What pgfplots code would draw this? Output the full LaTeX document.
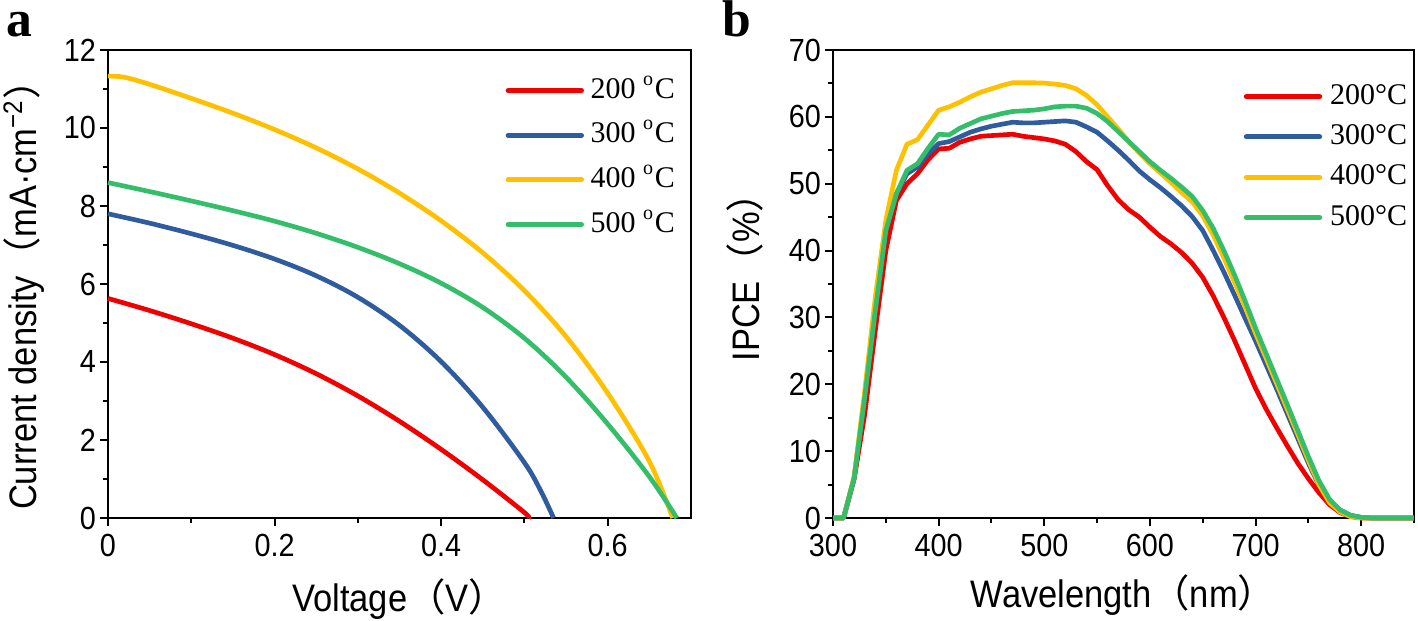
\documentclass[border=0pt]{standalone}
\usepackage{fontspec}
\setmainfont{Liberation Sans}[FakeStretch=0.9]
\newfontfamily\cjk{Noto Sans CJK JP}
\newfontfamily\legserif{Liberation Serif}
\usepackage{pgfplots}
\pgfplotsset{compat=1.18}
\usepackage{pgfplotstable}
\definecolor{cred}{RGB}{240,0,0}
\definecolor{cblue}{RGB}{46,92,158}
\definecolor{cyel}{RGB}{255,192,0}
\definecolor{cgreen}{RGB}{52,190,105}

\pgfplotstableread{
wl r b y g
300 0 0 0 0
310 0 0 0 0
320 5.8 6.0 6.2 6.0
330 15.5 18 19 18
340 28 31 33 31
350 40 43 44.5 43
360 47.5 48.5 52 48.5
370 50.0 51.5 55.9 52.0
380 51.5 52.5 56.6 53.0
390 53.6 54.5 58.8 55.3
400 55.2 56.0 61.0 57.4
410 55.3 56.3 61.5 57.3
420 56.2 57.0 62.2 58.3
430 56.7 57.7 63.0 59.0
440 57.1 58.2 63.7 59.7
450 57.2 58.6 64.2 60.1
460 57.3 58.9 64.7 60.5
470 57.4 59.2 65.1 60.8
480 57.1 59.1 65.1 60.9
490 56.9 59.1 65.1 61.0
500 56.7 59.2 65.05 61.2
510 56.4 59.3 64.9 61.5
520 55.9 59.4 64.7 61.6
530 54.8 59.2 64.2 61.6
540 53.3 58.5 63.2 61.3
550 52.1 57.7 61.8 60.5
560 49.7 56.4 60.0 59.3
570 47.6 55.0 58.2 57.8
580 46.1 53.5 56.3 56.3
590 45.0 51.9 54.6 54.8
600 43.5 50.6 53.0 53.3
610 42.1 49.4 51.6 52.0
620 41.0 48.1 50.2 50.8
630 39.7 46.7 48.7 49.5
640 38.1 45.1 47.3 48.1
650 36.0 43.0 45.2 46.0
660 33.2 40.0 42.3 43.3
670 30.0 36.8 38.9 40.0
680 26.6 33.4 35.3 36.4
690 23.0 29.9 31.6 32.5
700 19.4 26.5 27.6 28.4
710 16.3 22.9 23.9 24.6
720 13.5 19.3 20.1 20.8
730 10.8 15.6 16.3 17.0
740 8.2 11.9 12.5 13.1
750 5.9 8.2 8.6 9.2
760 3.8 4.9 5.0 5.6
770 2.0 2.5 2.3 2.8
780 0.8 1.2 0.9 1.2
790 0.2 0.4 0.2 0.4
800 0 0.1 0 0.1
810 0 0 0 0
850 0 0 0 0
}\ipce

\pgfplotsset{
  common/.style={
    scale only axis,
    height=140.4pt,
    axis line style={line width=0.7pt},
    tick align=outside,
    xtick pos=bottom, ytick pos=left,
    major tick length=2.4pt,
    minor tick length=1.5pt,
    every tick/.style={black, line width=0.6pt},
    /pgf/number format/assume math mode=true,
    tick label style={font=\fontsize{9.6}{10}\selectfont},
    yticklabel style={inner sep=1pt},
    xticklabel style={inner sep=1pt, yshift=-1.2pt},
    label style={font=\fontsize{11.5}{12}\selectfont},
    legend cell align=left,
    legend image code/.code={\draw[#1, line width=1.5pt, line cap=round] (0pt,0pt) -- (22pt,0pt);},
    every axis plot/.append style={line width=1.4pt, line join=round},
  }
}

\begin{document}
\begin{tikzpicture}
\useasboundingbox (-32.4pt,-30.9pt) rectangle (393pt,155.4pt);
% Panel a
\begin{axis}[common,
  at={(0pt,0pt)}, anchor=origin,
  width=174.9pt,
  xmin=0, xmax=0.7, ymin=0, ymax=12,
  xtick={0,0.2,0.4,0.6}, xticklabels={0,0.2,0.4,0.6},
  minor xtick={0.1,0.3,0.5},
  ytick={0,2,4,6,8,10,12},
  minor ytick={1,3,5,7,9,11},
  xlabel={Voltage{\cjk （}V{\cjk ）}},
  ylabel={Current density{\cjk （}mA·cm\textsuperscript{−2}{\cjk ）}},
  xlabel style={at={(axis description cs:0.5,-0.173)}, anchor=center},
  ylabel style={at={(axis description cs:-0.144,0.497)}, anchor=center},
  legend style={at={(rel axis cs:0.681,0.945)}, anchor=north west, draw=none, fill=none,
    font=\legserif\fontsize{9}{10}\selectfont, inner sep=0pt, row sep=4.9pt, column sep=2pt,
    nodes={inner sep=0pt, text height=6.5pt, text depth=2pt}},
  clip=false,
]
\addplot[cred, smooth, tension=0.55] coordinates {(0,5.63) (0.05,5.32) (0.1,4.98) (0.15,4.61) (0.2,4.19) (0.25,3.70) (0.3,3.13) (0.35,2.48) (0.4,1.76) (0.45,0.98) (0.5,0.14) (0.505,0)};
\addlegendentry{200 \textsuperscript{o}C}
\addplot[cblue, smooth, tension=0.55] coordinates {(0,7.8) (0.05,7.56) (0.1,7.29) (0.15,6.99) (0.2,6.64) (0.25,6.21) (0.3,5.66) (0.35,4.94) (0.4,4.01) (0.45,2.84) (0.5,1.42) (0.52,0.68) (0.535,0)};
\addlegendentry{300 \textsuperscript{o}C}
\addplot[cyel, smooth, tension=0.55] coordinates {(0,11.33) (0.02,11.30) (0.05,11.12) (0.1,10.76) (0.15,10.38) (0.2,9.96) (0.25,9.49) (0.3,8.95) (0.35,8.33) (0.4,7.62) (0.45,6.80) (0.5,5.83) (0.55,4.65) (0.6,3.20) (0.65,1.45) (0.678,0)};
\addlegendentry{400 \textsuperscript{o}C}
\addplot[cgreen, smooth, tension=0.55] coordinates {(0,8.6) (0.05,8.37) (0.1,8.13) (0.15,7.88) (0.2,7.61) (0.25,7.30) (0.3,6.94) (0.35,6.52) (0.4,6.02) (0.45,5.40) (0.5,4.61) (0.55,3.61) (0.6,2.41) (0.65,1.06) (0.683,0)};
\addlegendentry{500 \textsuperscript{o}C}
\node[anchor=base west, inner sep=0pt, font=\legserif\bfseries\fontsize{15.5}{15.5}\selectfont] at (rel axis cs:-0.176,1.028) {a};
\end{axis}
% Panel b
\begin{axis}[common,
  at={(217.5pt,0pt)}, anchor=origin,
  width=174.3pt,
  xmin=300, xmax=850, ymin=0, ymax=70,
  xtick={300,400,...,800},
  minor xtick={350,450,...,850},
  ytick={0,10,...,70},
  minor ytick={5,15,...,65},
  xlabel={Wavelength{\cjk （}nm{\cjk ）}},
  ylabel={IPCE{\cjk （}\%{\cjk ）}},
  xlabel style={at={(axis description cs:0.5,-0.164)}, anchor=center},
  ylabel style={at={(axis description cs:-0.151,0.535)}, anchor=center},
  legend style={at={(rel axis cs:0.706,0.932)}, anchor=north west, draw=none, fill=none,
    font=\legserif\fontsize{9}{10}\selectfont, inner sep=0pt, row sep=3.6pt, column sep=2.4pt,
    nodes={inner sep=0pt, text height=6.5pt, text depth=2pt}},
  clip=false,
]
\addplot[cred] table[x=wl, y=r] {\ipce};
\addlegendentry{200°C}
\addplot[cblue] table[x=wl, y=b] {\ipce};
\addlegendentry{300°C}
\addplot[cyel] table[x=wl, y=y] {\ipce};
\addlegendentry{400°C}
\addplot[cgreen] table[x=wl, y=g] {\ipce};
\addlegendentry{500°C}
\node[anchor=base west, inner sep=0pt, font=\legserif\bfseries\fontsize{15.5}{15.5}\selectfont] at (rel axis cs:-0.191,1.028) {b};
\end{axis}
\end{tikzpicture}
\end{document}
